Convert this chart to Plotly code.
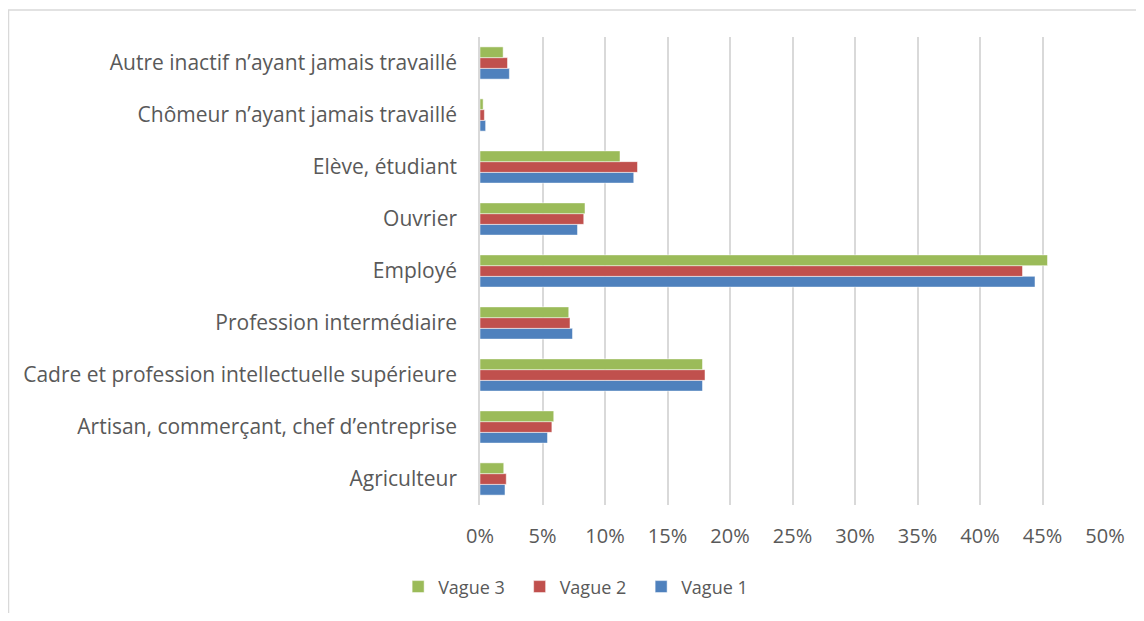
import plotly.graph_objects as go

categories = [
    "Agriculteur",
    "Artisan, commerçant, chef d’entreprise",
    "Cadre et profession intellectuelle supérieure",
    "Profession intermédiaire",
    "Employé",
    "Ouvrier",
    "Elève, étudiant",
    "Chômeur n’ayant jamais travaillé",
    "Autre inactif n’ayant jamais travaillé",
]
vague1 = [2.0, 5.4, 17.8, 7.4, 44.4, 7.8, 12.3, 0.45, 2.35]
vague2 = [2.1, 5.75, 18.0, 7.2, 43.4, 8.3, 12.6, 0.35, 2.2]
vague3 = [1.9, 5.9, 17.8, 7.1, 45.4, 8.4, 11.2, 0.25, 1.85]
x_ticks = list(range(0, 55, 5))
x_labels = [f"{v}%" for v in x_ticks]

colors = {"Vague 1": "#4F81BD", "Vague 2": "#C0504D", "Vague 3": "#9BBB59"}

fig = go.Figure()
for name, vals in [("Vague 1", vague1), ("Vague 2", vague2), ("Vague 3", vague3)]:
    fig.add_trace(go.Bar(
        y=categories, x=vals, name=name, orientation="h",
        marker=dict(color=colors[name], line=dict(color="white", width=0.5)),
    ))

# page body adds an 8px margin, so the figure is 16px smaller than the window
fig.update_layout(
    width=1128, height=605,
    margin=dict(l=472, r=31, t=29, b=108, autoexpand=False),
    barmode="group", bargap=0.38, bargroupgap=0,
    paper_bgcolor="white", plot_bgcolor="white",
    font=dict(family="Open Sans, sans-serif", size=21, color="#595959"),
    showlegend=True,
    legend=dict(orientation="h", traceorder="reversed", x=0.161, xanchor="center",
                y=-0.175, yanchor="middle", entrywidth=76.5,
                font=dict(size=18, color="#595959")),
    xaxis=dict(range=[0, 50], tickvals=x_ticks, ticktext=x_labels, showgrid=True,
               gridcolor="#D9D9D9", gridwidth=1.5, zeroline=False, showline=False,
               ticklabelstandoff=17, fixedrange=True, tickfont=dict(size=20),
               automargin=False),
    yaxis=dict(showline=True, linecolor="#D9D9D9", linewidth=1.5, ticklabelstandoff=17,
               showgrid=False, automargin=False),
    shapes=[dict(type="rect", xref="paper", yref="paper", x0=-0.7544, x1=1.2,
                 y0=-0.5, y1=1.0577, line=dict(color="#D9D9D9", width=1.5),
                 fillcolor="rgba(0,0,0,0)", layer="below")],
)

fig.write_html("out.html")
